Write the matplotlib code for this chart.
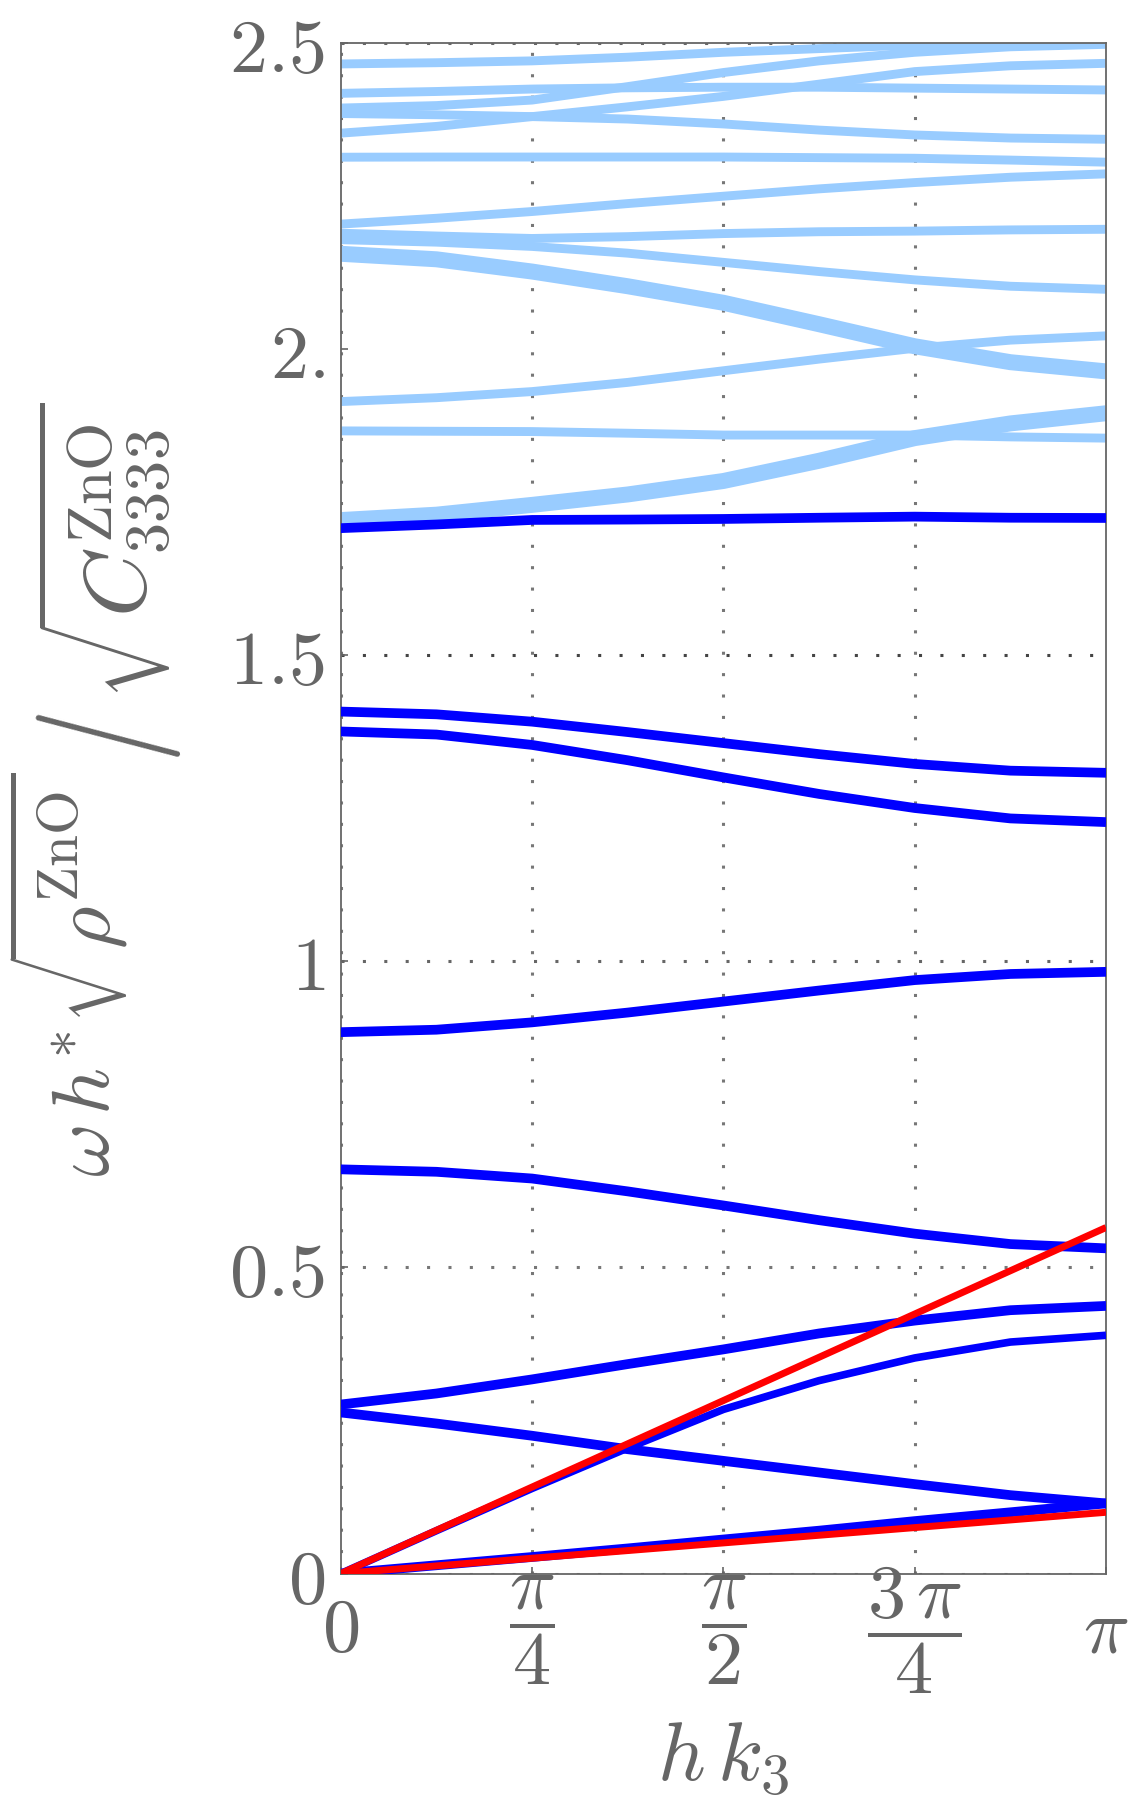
import numpy as np
import matplotlib.pyplot as plt

plt.rcParams['mathtext.fontset'] = 'cm'
plt.rcParams['font.family'] = ['DejaVu Serif']

GRAY = '#666666'

# h k3 sample points: 0, pi/8, ..., pi
hk = np.pi * np.array([0, 1, 2, 3, 4, 5, 6, 7, 8]) / 8

# light blue bands (upper frequency branches)
lb_a = [2.465, 2.467, 2.470, 2.476, 2.484, 2.490, 2.496, 2.502, 2.507]
lb_b = [2.417, 2.420, 2.424, 2.426, 2.427, 2.427, 2.4255, 2.424, 2.4225]
lb_c = [2.393, 2.397, 2.406, 2.428, 2.451, 2.470, 2.484, 2.493, 2.497]
lb_d = [2.384, 2.382, 2.379, 2.375, 2.367, 2.357, 2.349, 2.344, 2.342]
lb_e = [2.352, 2.363, 2.379, 2.395, 2.412, 2.432, 2.4525, 2.462, 2.466]
lb_f = [2.3127, 2.313, 2.313, 2.313, 2.313, 2.312, 2.311, 2.308, 2.3046]
lb_g = [2.2035, 2.213, 2.224, 2.237, 2.249, 2.261, 2.2713, 2.280, 2.2855]
lb_h = [2.1886, 2.184, 2.180, 2.183, 2.188, 2.191, 2.192, 2.194, 2.195]
lb_i = [2.178, 2.174, 2.167, 2.156, 2.141, 2.126, 2.1124, 2.102, 2.097]
lb_j = [2.155, 2.146, 2.126, 2.102, 2.075, 2.040, 2.004, 1.978, 1.963]
lb_k = [1.9137, 1.920, 1.930, 1.945, 1.964, 1.983, 2.0007, 2.014, 2.021]
lb_l = [1.8658, 1.8652, 1.8647, 1.862, 1.859, 1.859, 1.859, 1.856, 1.854]
lb_m = [1.7202, 1.729, 1.745, 1.762, 1.784, 1.817, 1.854, 1.878, 1.8946]

# dark blue branches
db_0 = [1.707, 1.713, 1.7204, 1.721, 1.722, 1.724, 1.7258, 1.724, 1.7236]
db_p1 = [1.4075, 1.403, 1.391, 1.374, 1.356, 1.338, 1.322, 1.311, 1.3075]
db_p2 = [1.375, 1.370, 1.353, 1.328, 1.300, 1.273, 1.250, 1.233, 1.227]
db_p3 = [0.884, 0.888, 0.900, 0.916, 0.934, 0.952, 0.969, 0.979, 0.9825]
db_p4 = [0.660, 0.656, 0.645, 0.624, 0.601, 0.577, 0.555, 0.538, 0.531]
db_q1 = [0.276, 0.294, 0.317, 0.342, 0.366, 0.392, 0.413, 0.430, 0.437]
db_q2 = [0.0, 0.070, 0.139, 0.205, 0.268, 0.315, 0.352, 0.378, 0.389]
db_q3 = [0.263, 0.245, 0.225, 0.203, 0.184, 0.165, 0.146, 0.128, 0.1145]
db_q4 = [0.0, 0.0135, 0.027, 0.041, 0.0556, 0.070, 0.0856, 0.100, 0.1145]

# red asymptotic lines
red_x = [0, np.pi]
red_hi = [0, 0.565]
red_lo = [0, 0.100]

fig = plt.figure(figsize=(11.36, 18.01), dpi=100)
ax = fig.add_axes([0.300, 0.1263, 0.6736, 0.8501])

# dotted grid
dot = (0, (1, 6))
for gx in [0, np.pi/4, np.pi/2, 3*np.pi/4]:
    ax.axvline(gx, color='#777777', lw=2.2, ls=dot, dash_capstyle='butt', zorder=1)
for gy, c in [(0, '#777777'), (0.5, '#777777'), (1.0, '#666666'), (1.5, '#444444'), (2.5, '#666666')]:
    ax.axhline(gy, color=c, lw=2.2, ls=dot, dash_capstyle='butt', zorder=1)

lightblue = '#99ccff'
for ys in [lb_a, lb_b, lb_c, lb_d, lb_e, lb_f, lb_g, lb_h, lb_i, lb_k, lb_l]:
    ax.plot(hk, ys, color=lightblue, lw=6.4, solid_capstyle='butt', zorder=2)
for ys in [lb_j, lb_m]:
    ax.plot(hk, ys, color=lightblue, lw=11.5, solid_capstyle='butt', zorder=2)

for ys in [db_0, db_p1, db_p2, db_p3, db_p4, db_q1, db_q3, db_q4]:
    ax.plot(hk, ys, color='#0000ff', lw=7.0, solid_capstyle='butt', zorder=3)
ax.plot(hk, db_q2, color='#0000ff', lw=5.5, solid_capstyle='butt', zorder=3)

ax.plot(red_x, red_hi, color='#ff0000', lw=5.0, solid_capstyle='butt', zorder=4)
ax.plot(red_x, red_lo, color='#ff0000', lw=5.0, solid_capstyle='butt', zorder=4)

ax.set_xlim(0, np.pi)
ax.set_ylim(0, 2.5)

ax.set_xticks([0, np.pi/4, np.pi/2, 3*np.pi/4, np.pi])
ax.set_xticklabels([r'$0$', r'$\dfrac{\pi}{4}$', r'$\dfrac{\pi}{2}$', r'$\dfrac{3\,\pi}{4}$', r'$\pi$'],
                   va='center')
ax.set_yticks([0, 0.5, 1, 1.5, 2, 2.5])
ax.set_yticklabels([r'$0$', r'$0.5$', r'$1$', r'$1.5$', r'$2.$', r'$2.5$'])
ax.tick_params(axis='both', direction='in', length=5, width=1.2, color=GRAY,
               labelcolor=GRAY, labelsize=55)
ax.tick_params(axis='x', pad=41)
ax.tick_params(axis='y', pad=11.5)

for s in ax.spines.values():
    s.set_color(GRAY)
    s.set_linewidth(1.3)

ax.set_xlabel(r'$h\,k_3$', fontsize=60, color=GRAY, va='center')
ax.xaxis.set_label_coords(0.5, -0.12)

# y label in three pieces (big slash between the two roots)
fig.text(0.0968, 0.3465, r'$\omega\,h^{*}\sqrt{\rho^{\mathrm{ZnO}}}$', fontsize=59, color=GRAY,
         rotation=90, rotation_mode='anchor', ha='left', va='baseline')
fig.text(0.0960, 0.5900, r'$/$', fontsize=100, color=GRAY, rotation=95,
         ha='center', va='center')
fig.text(0.1294, 0.6113, r'$\sqrt{C^{\mathrm{ZnO}}_{3333}}$', fontsize=64, color=GRAY,
         rotation=90, rotation_mode='anchor', ha='left', va='baseline')

fig.savefig('out.png', dpi=100)
